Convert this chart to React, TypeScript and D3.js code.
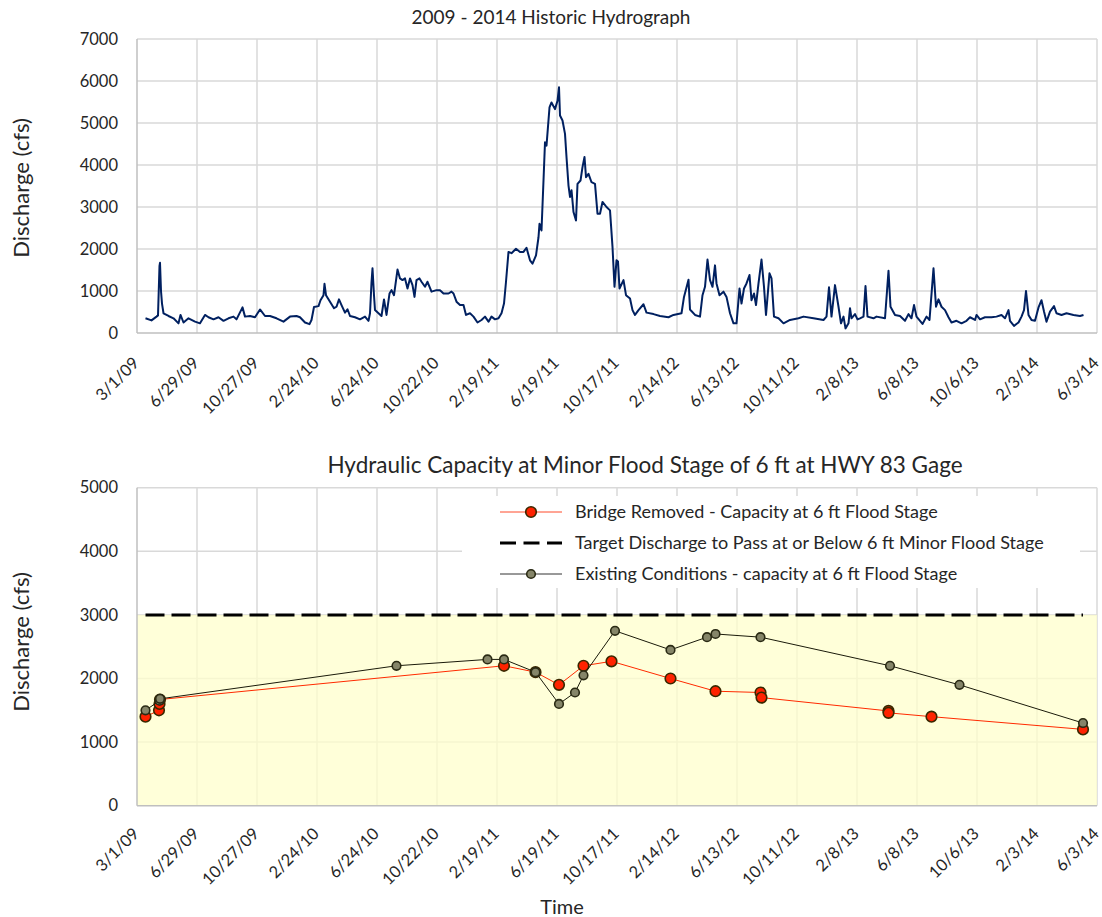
import React from 'react';
import * as d3 from 'd3';

// axis labels
const dateTicks = ['3/1/09', '6/29/09', '10/27/09', '2/24/10', '6/24/10', '10/22/10', '2/19/11', '6/19/11',
  '10/17/11', '2/14/12', '6/13/12', '10/11/12', '2/8/13', '6/8/13', '10/6/13', '2/3/14', '6/3/14'];
const topYTicks = [0, 1000, 2000, 3000, 4000, 5000, 6000, 7000];
const botYTicks = [0, 1000, 2000, 3000, 4000, 5000];

// hydrograph (days after 3/1/09, discharge cfs)
const hydroDay = [17, 29, 39, 42, 45, 46, 48, 50, 53, 63, 73, 83, 87, 93, 103, 116, 126, 136, 143, 153, 163, 173, 183, 193, 199,
  211, 216, 226, 236, 246, 256, 266, 279, 293, 306, 319, 326, 336, 345, 349, 354, 363, 367, 373, 375, 378, 386, 394, 399, 404,
  409, 416, 421, 426, 436, 446, 456, 463, 466, 469, 471, 474, 476, 483, 489, 494, 499, 505, 509, 514, 521, 526, 531, 536, 541,
  546, 551, 555, 559, 565, 569, 576, 581, 589, 599, 606, 613, 623, 629, 633, 639, 646, 653, 658, 666, 673, 681, 689, 696, 703,
  709, 716, 723, 729, 734, 738, 743, 749, 758, 766, 773, 779, 786, 791, 798, 803, 805, 809, 813, 816, 819, 825, 829, 836, 841,
  844, 846, 851, 856, 859, 863, 866, 869, 873, 878, 881, 887, 891, 895, 898, 903, 909, 916, 921, 926, 931, 939, 946, 951, 955,
  959, 962, 965, 973, 978, 986, 991, 996, 1003, 1013, 1019, 1033, 1046, 1063, 1073, 1089, 1094, 1103, 1106, 1116, 1126, 1131,
  1136, 1141, 1146, 1151, 1156, 1159, 1165, 1173, 1179, 1186, 1193, 1199, 1205, 1209, 1214, 1219, 1225, 1229, 1234, 1238, 1243,
  1249, 1254, 1258, 1265, 1269, 1274, 1283, 1293, 1306, 1323, 1333, 1353, 1373, 1379, 1384, 1389, 1396, 1403, 1408, 1413, 1417,
  1423, 1426, 1429, 1436, 1441, 1446, 1453, 1457, 1461, 1473, 1479, 1496, 1503, 1507, 1516, 1526, 1536, 1543, 1549, 1554, 1559,
  1571, 1579, 1585, 1593, 1598, 1603, 1609, 1616, 1623, 1629, 1639, 1649, 1659, 1666, 1676, 1679, 1686, 1696, 1709, 1719, 1729,
  1736, 1743, 1746, 1754, 1763, 1769, 1774, 1778, 1783, 1789, 1796, 1803, 1809, 1814, 1819, 1826, 1834, 1839, 1849, 1859, 1873,
  1886, 1893];
const hydroCfs = [350, 300, 390, 420, 1600, 1670, 1000, 700, 470, 405, 350, 230, 430, 250, 350, 270, 230, 430, 375, 325, 375, 290, 350, 390, 325,
  610, 390, 405, 375, 560, 405, 405, 350, 270, 390, 405, 375, 250, 210, 310, 620, 640, 780, 900, 1170, 900, 745, 590, 625, 800,
  665, 485, 565, 405, 375, 325, 390, 290, 470, 1200, 1540, 900, 545, 470, 405, 800, 430, 940, 1020, 900, 1510, 1300, 1260, 1300, 1060,
  1300, 1140, 860, 1260, 1300, 1220, 1100, 1220, 985, 1020, 1020, 940, 940, 985, 940, 745, 665, 665, 430, 470, 390, 250, 310, 390, 270,
  390, 325, 350, 470, 700, 1220, 1930, 1900, 2005, 1930, 1930, 2030, 1730, 1650, 1850, 2280, 2600, 2440, 3630, 4540, 4460, 5370, 5490, 5330, 5530,
  5850, 5180, 5060, 4740, 4190, 3510, 3240, 3400, 2880, 2680, 3550, 3630, 3950, 4190, 3710, 3790, 3590, 3550, 2840, 2840, 3120, 3000, 2920, 2050, 1100,
  1730, 1700, 1060, 1260, 900, 820, 545, 430, 545, 685, 485, 450, 405, 375, 430, 470, 860, 1270, 560, 430, 390, 900,
  1100, 1750, 1260, 1100, 1610, 1180, 900, 985, 860, 470, 230, 230, 1060, 700, 1060, 1180, 1380, 780, 940, 665, 1180,
  1750, 1100, 430, 1420, 1300, 390, 350, 230, 310, 350, 390, 350, 310, 390, 1090, 390, 1140, 625, 230, 390, 110,
  230, 590, 350, 450, 325, 350, 390, 1120, 390, 350, 390, 350, 1480, 625, 430, 405, 290, 450, 350, 665, 390,
  215, 390, 310, 1540, 625, 800, 625, 545, 375, 250, 290, 230, 290, 375, 310, 430, 325, 375, 375, 390, 430,
  350, 545, 290, 170, 250, 390, 545, 1000, 430, 310, 290, 610, 780, 510, 270, 510, 640, 470, 430, 470, 430,
  405, 430];

// hydraulic capacity
const removedDates = ['3/18/09', '4/14/09', '4/15/09', '4/16/09', '3/5/11', '5/7/11', '6/23/11', '8/11/11', '10/6/11',
  '2/1/12', '5/1/12', '7/30/12', '8/1/12', '4/12/13', '4/12/13', '7/7/13', '5/6/14'];
const removedCfs = [1400, 1500, 1600, 1670, 2200, 2100, 1900, 2200, 2270, 2000, 1800, 1780, 1700, 1490, 1460, 1400, 1200];
const existingDates = ['3/18/09', '4/15/09', '4/16/09', '8/2/10', '1/31/11', '3/5/11', '5/7/11', '6/23/11', '7/25/11',
  '8/11/11', '10/13/11', '2/1/12', '4/14/12', '5/1/12', '7/30/12', '4/15/13', '9/1/13', '5/6/14'];
const existingCfs = [1500, 1650, 1680, 2200, 2300, 2300, 2100, 1600, 1780, 2050, 2750, 2450, 2650, 2700, 2650, 2200, 1900, 1300];
const targetCfs = 3000;
const targetRange = ['3/18/09', '5/6/14'];

const legendItems = [
  'Bridge Removed - Capacity at 6 ft Flood Stage',
  'Target Discharge to Pass at or Below 6 ft Minor Flood Stage',
  'Existing Conditions - capacity at 6 ft Flood Stage',
];

const font = "Lato, 'Open Sans', sans-serif";
const textColor = '#262626';
const gridColor = '#d9d9d9';

const parse = d3.timeParse('%m/%d/%y');
const start = parse('3/1/09') as Date;

const x = d3.scaleTime()
  .domain([start, parse('6/3/14') as Date])
  .range([137, 1097]);
const yTop = d3.scaleLinear().domain([0, 7000]).range([333, 39]);
const yBot = d3.scaleLinear().domain([0, 5000]).range([805.7, 487.7]);

const DateAxis = ({ y0, off }: { y0: number, off: number }) => (
  <g>
    {dateTicks.map(t => {
      const px = x(parse(t) as Date);
      return (
        <text key={t} transform={`translate(${px - 1},${y0 + off}) rotate(-45)`}
          textAnchor="end" dy="0.35em" fontSize={16.5} fill={textColor}>{t}</text>
      );
    })}
  </g>
);

const Grid = ({ y, ticks }: { y: d3.ScaleLinear<number, number>, ticks: number[] }) => {
  const [y0, y1] = y.range();
  return (
    <g>
      {dateTicks.slice(1).map(t => (
        <line key={t} x1={x(parse(t) as Date)} x2={x(parse(t) as Date)} y1={y0} y2={y1}
          stroke={gridColor} strokeWidth={1.5} />
      ))}
      {ticks.slice(1).map(v => (
        <line key={v} x1={137} x2={1097} y1={y(v)} y2={y(v)} stroke={gridColor} strokeWidth={1.5} />
      ))}
    </g>
  );
};

const YLabels = ({ y, ticks }: { y: d3.ScaleLinear<number, number>, ticks: number[] }) => (
  <g>
    {ticks.map(v => (
      <text key={v} x={118} y={y(v)} dy="0.35em" textAnchor="end" fontSize={16.5} fill={textColor}>{v}</text>
    ))}
  </g>
);

export default function App() {
  const hydroLine = d3.line<number>()
    .x((_, i) => x(d3.timeDay.offset(start, hydroDay[i])))
    .y(d => yTop(d));

  const capLine = (dates: string[]) => d3.line<number>()
    .x((_, i) => x(parse(dates[i]) as Date))
    .y(d => yBot(d));

  const tx0 = x(parse(targetRange[0]) as Date);
  const tx1 = x(parse(targetRange[1]) as Date);

  return (
    <svg width={1102} height={917} style={{ position: 'absolute', left: 0, top: 0, background: '#fff' }}
      fontFamily={font}>
      {/* top chart */}
      <text x={551} y={24} textAnchor="middle" fontSize={19} fill={textColor}>2009 - 2014 Historic Hydrograph</text>
      <Grid y={yTop} ticks={topYTicks} />
      <line x1={137} x2={137} y1={39} y2={333} stroke="#bfbfbf" strokeWidth={1.5} />
      <line x1={137} x2={1097} y1={333} y2={333} stroke="#bfbfbf" strokeWidth={1.5} />
      <path d={hydroLine(hydroCfs) || ''} fill="none" stroke="#002060" strokeWidth={2} strokeLinejoin="round" />
      <YLabels y={yTop} ticks={topYTicks} />
      <DateAxis y0={333} off={27} />
      <text transform="translate(29,188) rotate(-90)" textAnchor="middle" fontSize={22} fill={textColor}>Discharge (cfs)</text>

      {/* bottom chart */}
      <text x={645} y={473} textAnchor="middle" fontSize={22.5} fill={textColor}>Hydraulic Capacity at Minor Flood Stage of 6 ft at HWY 83 Gage</text>
      <Grid y={yBot} ticks={botYTicks} />
      <rect x={137} y={yBot(targetCfs)} width={960} height={yBot(0) - yBot(targetCfs)} fill="#ffffcc" fillOpacity={0.75} />
      <line x1={137} x2={137} y1={487.7} y2={805.7} stroke="#bfbfbf" strokeWidth={1.5} />
      <line x1={137} x2={1097} y1={805.7} y2={805.7} stroke="#bfbfbf" strokeWidth={1.5} />

      <path d={capLine(removedDates)(removedCfs) || ''} fill="none" stroke="#ff2a00" strokeWidth={1} />
      {removedCfs.map((v, i) => (
        <circle key={'r' + i} cx={x(parse(removedDates[i]) as Date)} cy={yBot(v)} r={5.3}
          fill="#ff2200" stroke="#3a2800" strokeWidth={1.6} />
      ))}
      <line x1={tx0} x2={tx1} y1={yBot(targetCfs)} y2={yBot(targetCfs)} stroke="#000" strokeWidth={3} strokeDasharray="19,7" />
      <path d={capLine(existingDates)(existingCfs) || ''} fill="none" stroke="#1a1a0a" strokeWidth={1} />
      {existingCfs.map((v, i) => (
        <circle key={'g' + i} cx={x(parse(existingDates[i]) as Date)} cy={yBot(v)} r={4.3}
          fill="#858569" stroke="#2a2a14" strokeWidth={1.6} />
      ))}

      {/* legend */}
      <rect x={462} y={496} width={618} height={92} fill="#fff" />
      {legendItems.map((t, i) => {
        const ly = 512 + i * 31;
        return (
          <g key={t}>
            {i === 0 && <>
              <line x1={500} x2={562} y1={ly} y2={ly} stroke="#ff4a2a" strokeWidth={1} />
              <circle cx={531} cy={ly} r={5.3} fill="#ff2200" stroke="#3a2800" strokeWidth={1.6} />
            </>}
            {i === 1 && <line x1={500} x2={562} y1={ly} y2={ly} stroke="#000" strokeWidth={3} strokeDasharray="16,7.5" />}
            {i === 2 && <>
              <line x1={500} x2={562} y1={ly} y2={ly} stroke="#333" strokeWidth={1} />
              <circle cx={531} cy={ly} r={4.3} fill="#858569" stroke="#2a2a14" strokeWidth={1.6} />
            </>}
            <text x={575} y={ly} dy="0.35em" fontSize={18} fill={textColor}>{t}</text>
          </g>
        );
      })}

      <YLabels y={yBot} ticks={botYTicks} />
      <DateAxis y0={805.7} off={25} />
      <text transform="translate(29,642) rotate(-90)" textAnchor="middle" fontSize={22} fill={textColor}>Discharge (cfs)</text>
      <text x={562} y={914} textAnchor="middle" fontSize={20} fill={textColor}>Time</text>
    </svg>
  );
}
